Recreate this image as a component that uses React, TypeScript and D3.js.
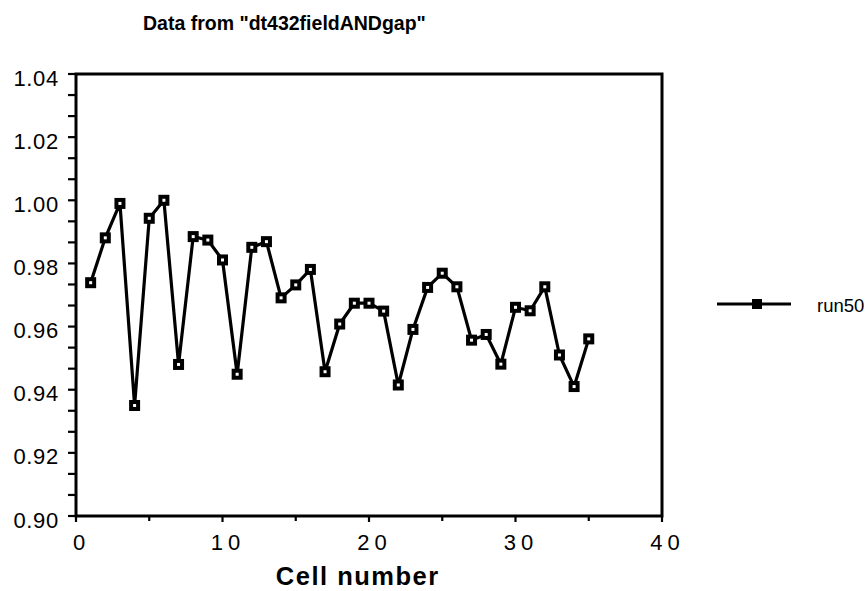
import React from "react";
import * as d3 from "d3";

const cells = [1,2,3,4,5,6,7,8,9,10,11,12,13,14,15,16,17,18,19,20,21,22,23,24,25,26,27,28,29,30,31,32,33,34,35];
const run50 = [0.9739,0.9881,0.999,0.9350,0.9943,1.0,0.948,0.9885,0.9874,0.9811,0.9449,0.9851,0.9869,0.9691,0.9732,0.9781,0.9457,0.9608,0.9674,0.9674,0.9649,0.9415,0.9591,0.9724,0.9769,0.9726,0.9557,0.9575,0.9481,0.9661,0.965,0.9726,0.951,0.941,0.9561];
const yTicks = [0.90,0.92,0.94,0.96,0.98,1.00,1.02,1.04];
const xTicks = [0,10,20,30,40];
const seriesName = "run50";
const title = 'Data from "dt432fieldANDgap"';
const xTitle = "Cell number";

export default function App() {
  const W = 868, H = 591;
  const L = 76, R = 662, T = 74, B = 516;
  const x = d3.scaleLinear().domain([0, 40]).range([L, R]);
  const y = d3.scaleLinear().domain([0.9, 1.04]).range([B, T]);
  const line = d3.line<number>().x((_, i) => x(cells[i])).y((d) => y(d));
  const minorY = d3.range(0, 22).map((i) => 0.9 + (i * 0.02) / 3);
  const minorX = [5, 15, 25, 35];
  const font = "'Liberation Sans', Arial, sans-serif";
  const xls = 5;
  const marker = (cx: number, cy: number, key: any) => (
    <g key={key}>
      <rect x={cx - 5.5} y={cy - 5.5} width={11} height={11} fill="#000" />
      <rect x={cx - 1.5} y={cy - 1.5} width={3} height={3} fill="#fff" />
    </g>
  );
  return (
    <svg width={W} height={H} style={{ position: "absolute", left: 0, top: 0, background: "#fff" }} fontFamily={font}>
      <rect width={W} height={H} fill="#fff" />
      <text x={143} y={30} fontSize={19.5} fontWeight="bold">{title}</text>
      {minorY.map((v, i) => (
        <line key={"my" + i} x1={L - 8} x2={L} y1={y(v)} y2={y(v)} stroke="#000" strokeWidth={2.2} />
      ))}
      {yTicks.map((v) => (
        <text key={"yt" + v} x={59} y={y(v) + 11.5} fontSize={22} textAnchor="end" letterSpacing={0.7}>{v.toFixed(2)}</text>
      ))}
      {xTicks.map((v) => (
        <g key={"xt" + v}>
          <line x1={x(v)} x2={x(v)} y1={B} y2={B + 6} stroke="#000" strokeWidth={2.2} />
          <text x={x(v) + 3 + xls / 2} y={550} fontSize={22} textAnchor="middle" letterSpacing={xls}>{String(v)}</text>
        </g>
      ))}
      {minorX.map((v) => (
        <line key={"mx" + v} x1={x(v)} x2={x(v)} y1={B} y2={B + 5} stroke="#000" strokeWidth={2.2} />
      ))}
      <rect x={L} y={T} width={R - L} height={B - T} fill="none" stroke="#000" strokeWidth={3} />
      <path d={line(run50) || ""} fill="none" stroke="#000" strokeWidth={3.2} strokeLinejoin="miter" />
      {run50.map((v, i) => marker(x(cells[i]), y(v), i))}
      <text x={357 + 0.75} y={585} fontSize={25.5} fontWeight="bold" textAnchor="middle" letterSpacing={1.5}>{xTitle}</text>
      <line x1={717} x2={791} y1={304} y2={304} stroke="#000" strokeWidth={3} />
      <rect x={752} y={299} width={10} height={10} fill="#000" />
      <text x={817} y={311.5} fontSize={18.5}>{seriesName}</text>
    </svg>
  );
}
